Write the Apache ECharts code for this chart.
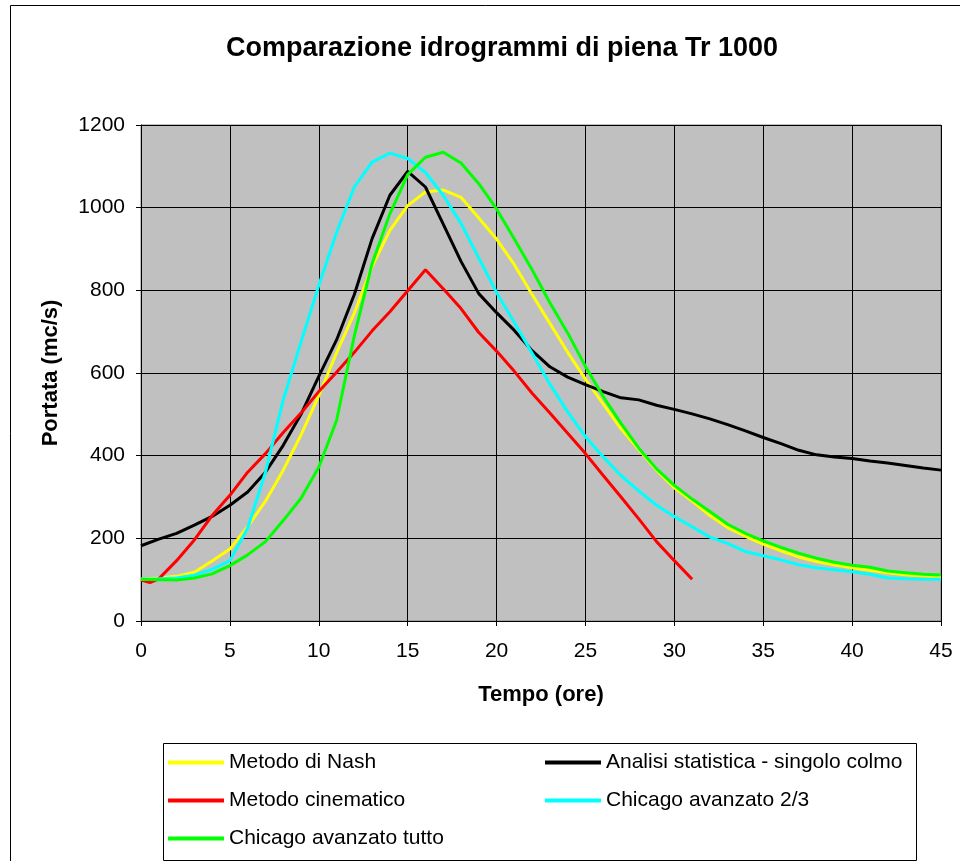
<!DOCTYPE html>
<html>
<head>
<meta charset="utf-8">
<script src="https://cdn.jsdelivr.net/npm/echarts@6/dist/echarts.min.js"></script>
<style>
html,body{margin:0;padding:0;background:#fff;}
#c{width:960px;height:861px;}
</style>
</head>
<body>
<div id="c"></div>
<script>
const hours = [0,1,2,3,4,5,6,7,8,9,10,11,12,13,14,15,16,17,18,19,20,21,22,23,24,25,26,27,28,29,30,31,32,33,34,35,36,37,38,39,40,41,42,43,44,45];
const nash = [101,104,108,118,145,174,228,290,365,450,545,649,745,858,945,1005,1038,1043,1025,975,924,862,790,720,650,585,525,465,415,365,322,290,255,226,205,186,170,155,144,136,129,123,117,112,109,107];
const analisi = [182,198,212,232,253,280,312,360,425,500,592,680,790,925,1030,1088,1050,960,870,792,746,703,654,615,590,572,555,540,535,522,512,501,489,475,460,444,429,413,402,397,393,387,382,376,370,365];
const cinematicoHours = [0,0.5,1,2,3,4,5,6,7,8,9,10,11,12,13,14,15,16,17,18,19,20,21,22,23,24,25,26,27,28,29,30,31];
const cinematico = [99,93,102,146,196,255,304,360,405,456,503,555,602,650,702,748,799,850,804,756,698,653,604,551,503,454,405,352,300,247,192,146,101];
const chicago23 = [101,102,104,111,125,146,225,360,535,675,812,940,1050,1110,1132,1119,1085,1030,962,878,795,722,648,573,506,446,397,352,315,280,253,228,203,188,168,158,148,136,129,124,119,113,104,102,101,101];
const chicagoTutto = [101,100,99,104,114,134,160,192,243,297,372,485,690,865,985,1080,1122,1134,1108,1058,997,924,850,770,697,616,543,478,418,368,328,295,265,234,212,194,178,164,152,142,135,130,121,117,113,111];
const names = ['Metodo di Nash','Analisi statistica - singolo colmo','Metodo cinematico','Chicago avanzato 2/3','Chicago avanzato tutto'];
const colors = ['#FFFF00','#000000','#FF0000','#00FFFF','#00FF00'];

function pairs(xs, ys){ return ys.map((v,i)=>[xs[i], v]); }
const seriesData = [pairs(hours,nash), pairs(hours,analisi), pairs(cinematicoHours,cinematico), pairs(hours,chicago23), pairs(hours,chicagoTutto)];

const FONT = '"Liberation Sans", Arial, sans-serif';
const chart = echarts.init(document.getElementById('c'), null, {renderer:'canvas'});
const legendText = {fontFamily: FONT, fontSize: 21, color:'#000'};
const legendCommon = {orient:'vertical', top:747, itemGap:17, itemWidth:56, itemHeight:4, icon:'rect', textStyle:legendText};
chart.setOption({
  animation:false,
  backgroundColor:'#fff',
  title:{
    text:'Comparazione idrogrammi di piena Tr 1000',
    left:497, top:30, textAlign:'center',
    textStyle:{fontFamily:FONT, fontSize:27, fontWeight:'bold', color:'#000'}
  },
  grid:{left:141, right:19, top:125, bottom:240, show:true, backgroundColor:'#C0C0C0', borderColor:'#808080', borderWidth:1},
  xAxis:{
    type:'value', min:0, max:45, interval:5,
    name:'Tempo (ore)', nameLocation:'middle', nameGap:63,
    nameTextStyle:{fontFamily:FONT, fontSize:22, fontWeight:'bold', color:'#000'},
    axisLine:{show:true, lineStyle:{color:'#000', width:1}},
    axisTick:{show:true, length:5, lineStyle:{color:'#000'}},
    axisLabel:{fontFamily:FONT, fontSize:21, color:'#000', margin:20},
    splitLine:{show:true, lineStyle:{color:'#000', width:1}}
  },
  yAxis:{
    type:'value', min:0, max:1200, interval:200,
    name:'Portata (mc/s)', nameLocation:'middle', nameGap:79,
    nameTextStyle:{fontFamily:FONT, fontSize:22, fontWeight:'bold', color:'#000'},
    axisLine:{show:true, lineStyle:{color:'#000', width:1}},
    axisTick:{show:true, length:5, lineStyle:{color:'#000'}},
    axisLabel:{fontFamily:FONT, fontSize:21, color:'#000', margin:16, formatter:(v)=>String(v)},
    splitLine:{show:true, lineStyle:{color:'#000', width:1}}
  },
  legend:[
    Object.assign({data:[names[0],names[2],names[4]], left:163}, legendCommon),
    Object.assign({data:[names[1],names[3]], left:540}, legendCommon)
  ],
  graphic:[
    {type:'rect', left:8, top:3, shape:{width:960, height:900}, style:{fill:'none', stroke:'#000', lineWidth:1}, silent:true, z:-1},
    {type:'rect', left:161, top:741, shape:{width:753, height:117}, style:{fill:'none', stroke:'#000', lineWidth:1}, silent:true}
  ],
  series: seriesData.map((d,i)=>({
    name:names[i], type:'line', data:d, showSymbol:false, symbol:'none',
    lineStyle:{color:colors[i], width:3}, itemStyle:{color:colors[i]}, smooth:false
  }))
});
</script>
</body>
</html>
